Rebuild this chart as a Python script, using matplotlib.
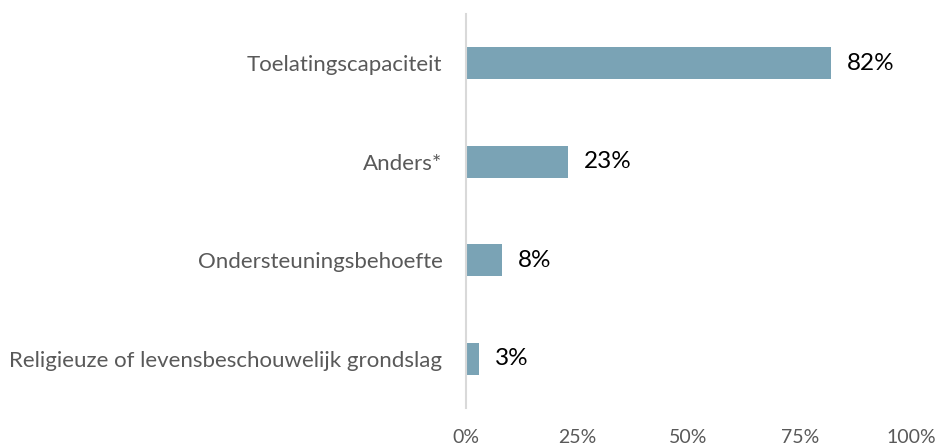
import matplotlib
matplotlib.use("Agg")
import matplotlib.pyplot as plt
from matplotlib.ticker import FuncFormatter

categories = ["Toelatingscapaciteit", "Anders*", "Ondersteuningsbehoefte",
              "Religieuze of levensbeschouwelijk grondslag"]
values = [82, 23, 8, 3]
xticks = [0, 25, 50, 75, 100]

plt.rcParams['font.family'] = ['Lato', 'DejaVu Sans']

fig = plt.figure(figsize=(9.44, 4.47), dpi=100)
W, H = 944, 447
ax = fig.add_axes([466 / W, 1 - 408 / H, (911 - 466) / W, (408 - 14) / H])

ypos = list(range(len(categories)))
ax.barh(ypos, values, height=0.32, color="#7aa3b5")
ax.set_ylim(len(categories) - 0.5, -0.5)
ax.set_xlim(0, 100)
ax.set_yticks(ypos)
ax.set_yticklabels(categories, fontsize=16, color="#595959")
ax.set_xticks(xticks)
ax.xaxis.set_major_formatter(FuncFormatter(lambda v, p: f"{v:.0f}%"))
ax.tick_params(axis="x", length=0, pad=15, labelsize=14, labelcolor="#595959")
ax.tick_params(axis="y", length=0, pad=17)
for s in ["top", "right", "bottom"]:
    ax.spines[s].set_visible(False)
ax.spines["left"].set_color("#d9d9d9")
ax.spines["left"].set_linewidth(1.5)

for y, v in zip(ypos, values):
    ax.text(v + 3.6, y, f"{v}%", va="center", ha="left", fontsize=17.5, color="black")

fig.savefig("out.png", dpi=100)
